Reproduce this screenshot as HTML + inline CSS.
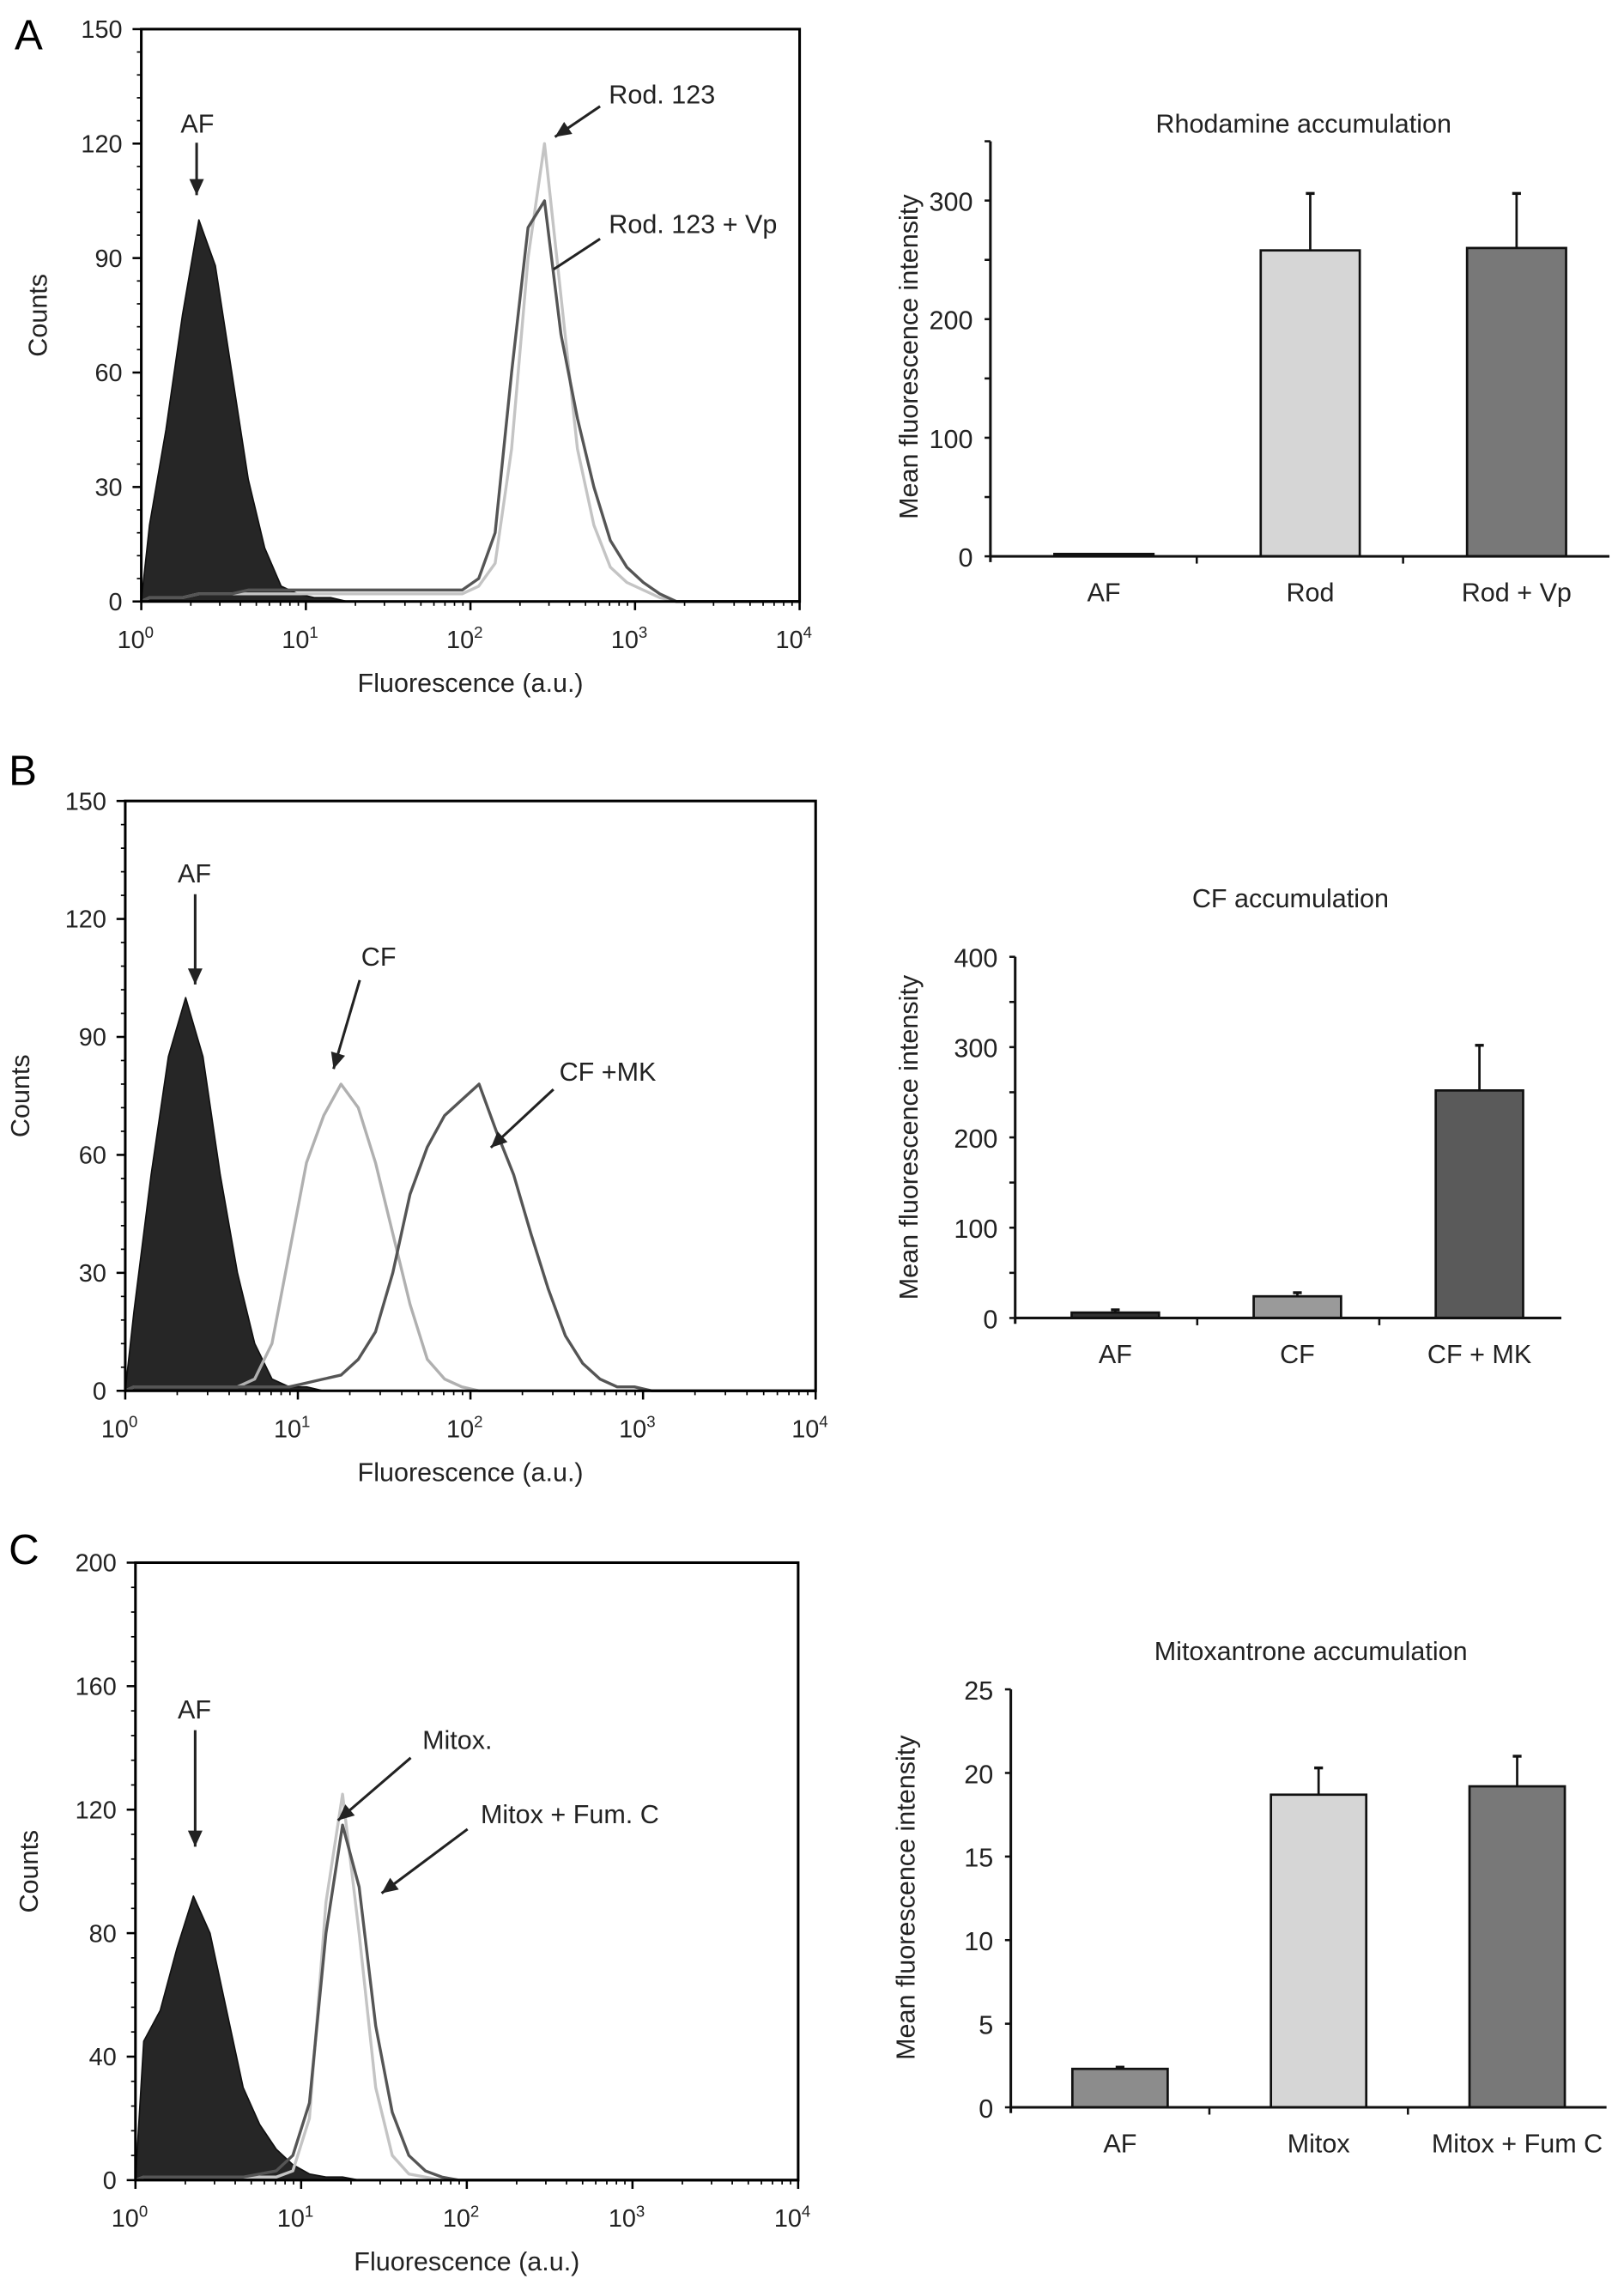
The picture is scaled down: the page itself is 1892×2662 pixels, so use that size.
<!DOCTYPE html>
<html><head><meta charset="utf-8"><style>
html,body{margin:0;padding:0;background:#fff;}
svg{display:block;font-family:"Liberation Sans",Arial,sans-serif;}
</style></head><body>
<svg id="fig" width="1892" height="2662" viewBox="0 0 1115 1569" preserveAspectRatio="none" xmlns="http://www.w3.org/2000/svg">
<rect x="0" y="0" width="1115" height="1569" fill="#fff"/>
<text x="10" y="34" font-size="29">A</text>
<text x="6" y="539" font-size="29">B</text>
<text x="6" y="1074" font-size="29">C</text>
</svg>
<script>
// ---------- Histogram data (log10 bin centers, counts) ----------
const histBins = [0.05,0.15,0.25,0.35,0.45,0.55,0.65,0.75,0.85,0.95,1.05,1.15,1.25,1.35,1.45,1.55,1.65,1.75,1.85,1.95,2.05,2.15,2.25,2.35,2.45,2.55,2.65,2.75,2.85,2.95,3.05,3.15,3.25,3.35,3.45,3.55,3.65,3.75,3.85,3.95];
const histA_AF    = [20,45,75,100,88,60,32,14,4,2,1,1,0,0,0,0,0,0,0,0,0,0,0,0,0,0,0,0,0,0,0,0,0,0,0,0,0,0,0,0];
const histA_Rod   = [1,1,1,2,2,2,2,2,2,2,2,2,2,2,2,2,2,2,2,2,4,10,40,90,120,80,40,20,9,5,3,1,0,0,0,0,0,0,0,0];
const histA_RodVp = [1,1,1,2,2,2,3,3,3,3,3,3,3,3,3,3,3,3,3,3,6,18,60,98,105,70,48,30,16,9,5,2,0,0,0,0,0,0,0,0];
const histB_AF    = [20,55,85,100,85,55,30,12,3,1,1,0,0,0,0,0,0,0,0,0,0,0,0,0,0,0,0,0,0,0,0,0,0,0,0,0,0,0,0,0];
const histB_CF    = [1,1,1,1,1,1,1,3,12,35,58,70,78,72,58,40,22,8,3,1,0,0,0,0,0,0,0,0,0,0,0,0,0,0,0,0,0,0,0,0];
const histB_CFMK  = [1,1,1,1,1,1,1,1,1,1,2,3,4,8,15,30,50,62,70,74,78,66,55,40,26,14,7,3,1,1,0,0,0,0,0,0,0,0,0,0];
const histC_AF    = [45,55,75,92,80,55,30,18,10,5,2,1,1,0,0,0,0,0,0,0,0,0,0,0,0,0,0,0,0,0,0,0,0,0,0,0,0,0,0,0];
const histC_Mit   = [1,1,1,1,1,1,1,1,1,3,20,90,125,80,30,8,2,1,0,0,0,0,0,0,0,0,0,0,0,0,0,0,0,0,0,0,0,0,0,0];
const histC_MitF  = [1,1,1,1,1,1,1,2,3,8,25,80,115,95,50,22,8,3,1,0,0,0,0,0,0,0,0,0,0,0,0,0,0,0,0,0,0,0,0,0];
const xTickExps = [0,1,2,3,4];
const yTicksA = [0,30,60,90,120,150];
const yTicksB = [0,30,60,90,120,150];
const yTicksC = [0,40,80,120,160,200];

// ---------- Bar chart data ----------
const barCatsA = ["AF","Rod","Rod + Vp"];
const barValsA = [2,258,260];
const barErrA  = [0,48,46];
const barTicksA = [0,100,200,300];
const barCatsB = ["AF","CF","CF + MK"];
const barValsB = [6,24,252];
const barErrB  = [3,4,50];
const barTicksB = [0,100,200,300,400];
const barCatsC = ["AF","Mitox","Mitox + Fum C"];
const barValsC = [2.3,18.7,19.2];
const barErrC  = [0.1,1.6,1.8];
const barTicksC = [0,5,10,15,20,25];

const NS="http://www.w3.org/2000/svg";
const svg=document.getElementById('fig');
function mk(tag,attrs,parent){const e=document.createElementNS(NS,tag);for(const k in attrs)e.setAttribute(k,attrs[k]);(parent||svg).appendChild(e);return e;}

function histogram(cfg){
  const g=mk('g',{});
  
  
  const L=cfg.x0,R=cfg.x1,T=cfg.y0,B=cfg.y1,ymax=cfg.ymax;
  const sx=v=>L+(v/4)*(R-L);
  const sy=v=>B-(v/ymax)*(B-T);
  cfg.series.forEach(s=>{
    let d='M'+sx(0)+','+sy(0);
    histBins.forEach((b,i)=>{d+=' L'+sx(b).toFixed(2)+','+sy(s.data[i]).toFixed(2);});
    d+=' L'+sx(4)+','+sy(0);
    const p=mk('path',{d:d+(s.fill?' Z':''),fill:s.fill?'#262626':'none',stroke:s.color,'stroke-width':s.fill?1:2,'stroke-linejoin':'round'},g);
    
    
  });
  const box=mk('rect',{x:L,y:T,width:R-L,height:B-T,fill:'none',stroke:'#000','stroke-width':1.8},g);
  
  
  cfg.yTicks.forEach((v,i)=>{
    mk('line',{x1:L-6,x2:L,y1:sy(v),y2:sy(v),stroke:'#000','stroke-width':1.5},g);
    const t=mk('text',{x:L-13,y:sy(v)+6,'font-size':17,'text-anchor':'end',fill:'#222'},g);
    t.textContent=v;
    
    
    if(i<cfg.yTicks.length-1){
      const step=(cfg.yTicks[i+1]-v)/5;
      for(let k=1;k<5;k++){mk('line',{x1:L-3,x2:L,y1:sy(v+k*step),y2:sy(v+k*step),stroke:'#000','stroke-width':1},g);}
    }
  });
  xTickExps.forEach(e=>{
    mk('line',{x1:sx(e),x2:sx(e),y1:B,y2:B+6,stroke:'#000','stroke-width':1.5},g);
    if(e<4){for(let m=2;m<10;m++){const xx=sx(e+Math.log10(m));mk('line',{x1:xx,x2:xx,y1:B,y2:B+3,stroke:'#000','stroke-width':1},g);}}
    const t=mk('text',{x:sx(e)-4,y:B+32,'font-size':17,'text-anchor':'middle',fill:'#222'},g);
    
    
    t.appendChild(document.createTextNode('10'));
    const sp=mk('tspan',{dy:-7,'font-size':11},t);sp.textContent=e;
  });
  const xl=mk('text',{x:(L+R)/2,y:B+62,'font-size':18,'text-anchor':'middle',fill:'#222'},g);
  xl.textContent='Fluorescence (a.u.)';
  
  
  const yl=mk('text',{x:0,y:0,'font-size':18,'text-anchor':'middle',fill:'#222',transform:'translate('+(cfg.countsX)+','+((T+B)/2)+') rotate(-90)'},g);
  yl.textContent='Counts';
  
  
  cfg.notes.forEach(n=>{
    const t=mk('text',{x:n.tx,y:n.ty,'font-size':18,fill:'#222','text-anchor':n.anchor||'start'},g);
    t.textContent=n.text;
    
    
    const ln=mk('line',{x1:n.a[0],y1:n.a[1],x2:n.a[2],y2:n.a[3],stroke:'#222','stroke-width':1.8},g);
    
    
    if(n.head){
      const dx=n.a[2]-n.a[0],dy=n.a[3]-n.a[1],len=Math.hypot(dx,dy),ux=dx/len,uy=dy/len,hl=11,hw=5;
      const bx=n.a[2]-ux*hl,by=n.a[3]-uy*hl;
      mk('polygon',{points:n.a[2]+','+n.a[3]+' '+(bx-uy*hw)+','+(by+ux*hw)+' '+(bx+uy*hw)+','+(by-ux*hw),fill:'#222'},g);
    }
  });
}

function barChart(cfg){
  const g=mk('g',{});
  
  
  const L=cfg.x0,R=cfg.x1,B=cfg.y0,T=cfg.yTop,ymax=cfg.ymax;
  const sy=v=>B-(v/ymax)*(B-T);
  const w=(R-L)/3;
  cfg.cats.forEach((c,i)=>{
    const cx=L+w*(i+0.55), bw=w*0.48;
    const v=cfg.vals[i];
    const r=mk('rect',{x:cx-bw/2,y:sy(v),width:bw,height:B-sy(v),fill:cfg.colors[i],stroke:'#111','stroke-width':1.6},g);
    
    
    if(cfg.errs[i]>0){
      const el=mk('line',{x1:cx,x2:cx,y1:sy(v),y2:sy(v+cfg.errs[i]),stroke:'#111','stroke-width':1.6},g);
      
      
      mk('line',{x1:cx-3,x2:cx+3,y1:sy(v+cfg.errs[i]),y2:sy(v+cfg.errs[i]),stroke:'#111','stroke-width':2},g);
    }
    const t=mk('text',{x:cx,y:B+31,'font-size':18,'text-anchor':'middle',fill:'#222'},g);
    t.textContent=c;
    
    
    if(i>0) mk('line',{x1:L+w*i,x2:L+w*i,y1:B,y2:B+5,stroke:'#111','stroke-width':1.5},g);
  });
  mk('line',{x1:L,x2:R,y1:B,y2:B,stroke:'#111','stroke-width':1.8},g);
  mk('line',{x1:L,x2:L,y1:B+4,y2:T,stroke:'#111','stroke-width':1.8},g);
  cfg.ticks.forEach((v,i)=>{
    mk('line',{x1:L-4,x2:L,y1:sy(v),y2:sy(v),stroke:'#111','stroke-width':1.5},g);
    const t=mk('text',{x:L-12,y:sy(v)+7,'font-size':18,'text-anchor':'end',fill:'#222'},g);
    t.textContent=v;
    
    
    if(cfg.minor){const mv=v+cfg.minor;if(mv<=ymax)mk('line',{x1:L-4,x2:L,y1:sy(mv),y2:sy(mv),stroke:'#111','stroke-width':1.5},g);}
  });
  const title=mk('text',{x:cfg.titleX,y:cfg.titleY,'font-size':18,'text-anchor':'middle',fill:'#222'},g);
  title.textContent=cfg.title;
  
  
  const yl=mk('text',{x:0,y:0,'font-size':18,'text-anchor':'middle',fill:'#222',transform:'translate('+cfg.ylX+','+cfg.ylY+') rotate(-90)'},g);
  yl.textContent='Mean fluorescence intensity';
  
  
}

histogram({name:'histogram-a',x0:97,x1:549,y0:20,y1:413,ymax:150,yTicks:yTicksA,countsX:32,
  series:[{name:'af-histogram',data:histA_AF,color:'#111',fill:true},
          {name:'rod123-histogram',data:histA_Rod,color:'#c4c4c4'},
          {name:'rod123-vp-histogram',data:histA_RodVp,color:'#555'}],
  notes:[{text:'AF',tx:124,ty:91,a:[135,98,135,134],head:true},
         {text:'Rod. 123',tx:418,ty:71,a:[412,73,381,94],head:true},
         {text:'Rod. 123 + Vp',tx:418,ty:160,a:[412,164,380,185],head:false}]});
histogram({name:'histogram-b',x0:86,x1:560,y0:550,y1:955,ymax:150,yTicks:yTicksB,countsX:20,
  series:[{name:'af-histogram',data:histB_AF,color:'#111',fill:true},
          {name:'cf-histogram',data:histB_CF,color:'#b0b0b0'},
          {name:'cf-mk-histogram',data:histB_CFMK,color:'#555'}],
  notes:[{text:'AF',tx:122,ty:606,a:[134,614,134,676],head:true},
         {text:'CF',tx:248,ty:663,a:[247,673,229,734],head:true},
         {text:'CF +MK',tx:384,ty:742,a:[380,748,337,788],head:true}]});
histogram({name:'histogram-c',x0:93,x1:548,y0:1073,y1:1497,ymax:200,yTicks:yTicksC,countsX:26,
  series:[{name:'af-histogram',data:histC_AF,color:'#111',fill:true},
          {name:'mitox-histogram',data:histC_Mit,color:'#c4c4c4'},
          {name:'mitox-fumc-histogram',data:histC_MitF,color:'#555'}],
  notes:[{text:'AF',tx:122,ty:1180,a:[134,1188,134,1268],head:true},
         {text:'Mitox.',tx:290,ty:1201,a:[282,1207,232,1250],head:true},
         {text:'Mitox + Fum. C',tx:330,ty:1252,a:[321,1256,262,1300],head:true}]});

barChart({name:'bar-chart-a',x0:680,x1:1105,y0:382,yTop:97,ymax:350,cats:barCatsA,vals:barValsA,errs:barErrA,ticks:barTicksA,minor:50,
  colors:['#222','#d6d6d6','#787878'],title:'Rhodamine accumulation',titleX:895,titleY:91,ylX:630,ylY:245});
barChart({name:'bar-chart-b',x0:697,x1:1072,y0:905,yTop:657,ymax:400,cats:barCatsB,vals:barValsB,errs:barErrB,ticks:barTicksB,minor:50,
  colors:['#333','#9a9a9a','#5a5a5a'],title:'CF accumulation',titleX:886,titleY:623,ylX:630,ylY:781});
barChart({name:'bar-chart-c',x0:694,x1:1103,y0:1447,yTop:1160,ymax:25,cats:barCatsC,vals:barValsC,errs:barErrC,ticks:barTicksC,minor:0,
  colors:['#8c8c8c','#d6d6d6','#787878'],title:'Mitoxantrone accumulation',titleX:900,titleY:1140,ylX:628,ylY:1303});
</script>
</body></html>
